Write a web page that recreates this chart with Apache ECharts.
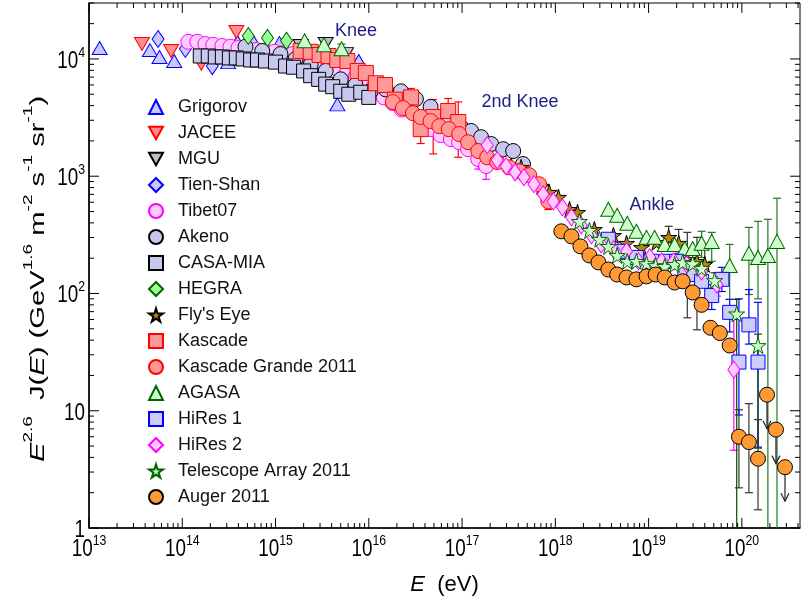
<!DOCTYPE html>
<html>
<head>
<meta charset="utf-8">
<script src="https://cdn.jsdelivr.net/npm/echarts@6/dist/echarts.min.js"></script>
<style>
  html, body { margin: 0; padding: 0; background: #fff; }
  #chart { width: 801px; height: 606px; }
</style>
</head>
<body>
<div id="chart"></div>
<script>
// axis ranges (E in eV, flux E^2.6 J(E))
const xMin = 1e13, xMax = 4.2e20;
const yMin = 1, yMax = 3e4;
const xDecades = [13, 14, 15, 16, 17, 18, 19, 20];
const yDecades = [0, 1, 2, 3, 4];
const tickMult = [1, 2, 3, 4, 5, 6, 7, 8, 9];

// [E, E^2.6 J(E)]
const grigorov = [[1.3e13, 1.24e4], [4.5e13, 1.19e4], [5.7e13, 1.04e4], [8.2e13, 9.6e3], [3.1e14, 9.4e3],
  [3.9e14, 1.4e4], [5.8e14, 1.4e4], [1.1e15, 1.37e4], [4.6e15, 4.1e3], [7.8e15, 9.6e3]];
const jacee = [[3.7e13, 1.34e4], [7.6e13, 1.17e4], [1.6e14, 9.1e3], [3.8e14, 1.7e4]];
const mgu = [[1.86e15, 1.29e4], [3.45e15, 1.34e4], [5.7e15, 1.1e4]];
const tienShan = [[5.5e13, 1.48e4], [1.08e14, 1.22e4], [2.1e14, 8.7e3]];
const tibet07 = [[1.16e14, 1.40e4], [1.45e14, 1.40e4], [1.77e14, 1.34e4], [2.15e14, 1.32e4], [2.69e14, 1.29e4],
  [3.28e14, 1.27e4], [4.0e14, 1.24e4], [5.0e14, 1.22e4], [6.25e14, 1.19e4], [7.8e14, 1.17e4], [9.75e14, 1.15e4],
  [1.22e15, 1.12e4], [1.52e15, 1.10e4], [1.9e15, 1.06e4], [2.38e15, 1.0e4], [2.97e15, 9.4e3], [3.7e15, 8.9e3],
  [4.6e15, 8.2e3], [5.8e15, 7.6e3], [7.2e15, 7.0e3], [9.1e15, 6.4e3], [1.13e16, 5.8e3], [1.45e16, 4.7e3],
  [1.81e16, 4.2e3], [2.26e16, 3.7e3], [2.83e16, 3.6e3], [3.6e16, 3.2e3], [4.6e16, 2.52e3], [5.9e16, 2.24e3],
  [7.6e16, 2.07e3], [9.3e16, 1.95e3], [1.16e17, 1.70e3], [1.49e17, 1.40e3], [1.81e17, 1.22e3]];
const akeno = [[4.76e14, 1.27e4], [7.2e14, 1.17e4], [1.13e15, 1.10e4], [1.64e15, 1.0e4], [2.38e15, 8.9e3],
  [3.45e15, 7.9e3], [5.0e15, 6.7e3], [7.2e15, 6.0e3], [1.05e16, 5.3e3], [1.52e16, 5.5e3], [2.21e16, 5.3e3],
  [3.2e16, 4.55e3], [4.6e16, 3.9e3], [6.7e16, 3.2e3], [9.75e16, 2.62e3], [1.25e17, 2.43e3], [1.6e17, 2.15e3],
  [2.05e17, 1.88e3], [2.76e17, 1.70e3], [3.53e17, 1.64e3], [4.5e17, 1.27e3]];
const casaMia = [[1.56e14, 1.06e4], [1.9e14, 1.06e4], [2.26e14, 1.04e4], [2.69e14, 1.04e4], [3.2e14, 1.02e4],
  [3.8e14, 1.02e4], [4.5e14, 1.0e4], [5.4e14, 9.8e3], [6.4e14, 9.8e3], [7.8e14, 9.6e3], [1.0e15, 9.4e3],
  [1.28e15, 8.7e3], [1.56e15, 8.5e3], [2.0e15, 7.9e3], [2.38e15, 7.2e3], [2.9e15, 6.7e3], [3.45e15, 6.1e3],
  [4.1e15, 5.8e3], [5.0e15, 5.3e3], [6.1e15, 5.0e3], [8.2e15, 5.2e3], [1.0e16, 4.7e3]];
const hegra = [[5.1e14, 1.57e4], [8.2e14, 1.51e4], [1.31e15, 1.43e4]];
const flysEye = [[3.37e17, 1.22e3], [4.3e17, 1.19e3], [7.1e17, 822], [8.6e17, 730], [1.08e18, 662], [1.42e18, 522],
  [1.73e18, 492], [2.62e18, 352], [4.2e18, 313], [5.8e18, 268], [8.4e18, 247], [1.22e19, 273], [1.64e19, 301],
  [2.1e19, 268], [2.6e19, 195], [3.3e19, 188], [4.0e19, 177]];
const kascade = [[1.86e15, 1.17e4], [2.38e15, 1.15e4], [2.97e15, 1.08e4], [3.7e15, 1.06e4], [4.6e15, 9.8e3],
  [5.9e15, 9.6e3], [7.6e15, 7.9e3], [9.3e15, 7.6e3], [1.19e16, 6.2e3], [1.49e16, 6.0e3], [1.9e16, 4.5e3],
  [2.83e16, 4.7e3], [3.6e16, 2.52e3], [4.9e16, 3.2e3], [7.1e16, 3.6e3], [9.1e16, 2.9e3]];
const kascadeGrande = [[1.81e16, 4.29e3], [2.32e16, 3.81e3], [2.97e16, 3.45e3], [3.6e16, 3.2e3], [4.6e16, 2.95e3],
  [5.7e16, 2.67e3], [7.2e16, 2.52e3], [9.3e16, 2.29e3], [1.16e17, 1.95e3], [1.49e17, 1.64e3], [1.86e17, 1.45e3],
  [2.38e17, 1.32e3], [3.2e17, 1.19e3], [4.1e17, 1.10e3], [5.25e17, 1.02e3], [6.7e17, 855], [8.4e17, 611]];
const agasa = [[2.05e15, 1.43e4], [3.3e15, 1.32e4], [5.1e15, 1.22e4], [3.7e18, 522], [4.6e18, 464], [5.9e18, 397],
  [7.4e18, 339], [9.5e18, 301], [1.16e19, 301], [1.49e19, 262], [1.9e19, 262], [2.44e19, 242], [2.97e19, 242],
  [3.7e19, 268], [4.75e19, 278], [7.4e19, 173], [1.19e20, 220], [1.49e20, 203], [1.9e20, 211], [2.38e20, 278]];
const hiRes1 = [[3.7e18, 290], [5.1e18, 229], [7.4e18, 203], [1.08e19, 188], [1.56e19, 188], [2.0e19, 188],
  [2.44e19, 160], [3.05e19, 145], [3.7e19, 127], [4.75e19, 96], [6.1e19, 132], [7.4e19, 69], [9.3e19, 26],
  [1.19e20, 54], [1.49e20, 26]];
const hiRes2 = [[1.86e17, 1.84e3], [2.38e17, 1.37e3], [2.97e17, 1.22e3], [3.7e17, 1.08e3], [4.6e17, 980],
  [5.9e17, 855], [7.4e17, 702], [9.5e17, 611], [1.19e18, 543], [1.49e18, 446], [1.9e18, 381], [2.44e18, 313],
  [3.1e18, 262], [4.2e18, 238], [5.8e18, 229], [7.8e18, 188], [1.03e19, 203], [1.38e19, 188], [1.86e19, 188],
  [2.56e19, 177], [3.7e19, 154], [5.4e19, 119], [8.2e19, 22.4]];
const telescopeArray = [[1.81e18, 412], [2.32e18, 345], [2.97e18, 290], [3.7e18, 252], [4.6e18, 211], [5.9e18, 188],
  [7.4e18, 188], [9.5e18, 180], [1.19e19, 173], [1.49e19, 170], [1.9e19, 177], [2.32e19, 184], [2.97e19, 180],
  [3.7e19, 164], [5.1e19, 129], [8.8e19, 67], [1.49e20, 36]];
const auger = [[1.16e18, 339], [1.49e18, 307], [1.86e18, 252], [2.32e18, 211], [2.9e18, 184], [3.7e18, 160],
  [4.6e18, 145], [5.8e18, 137], [7.4e18, 132], [9.5e18, 140], [1.19e19, 145], [1.49e19, 137], [1.9e19, 124],
  [2.32e19, 127], [2.97e19, 102], [3.7e19, 80], [4.6e19, 51], [5.8e19, 46], [7.4e19, 36], [9.3e19, 6.0],
  [1.19e20, 5.4], [1.49e20, 3.9]];
const augerLimits = [[1.86e20, 13.7], [2.32e20, 6.9], [2.9e20, 3.3]];

// error bars [E, low, high]; low at yMin means the bar runs down to the axis
const kascadeErr = [[2.83e16, 3.9e3, 5.6e3], [3.6e16, 1.9e3, 3.2e3], [4.9e16, 1.55e3, 4.5e3], [7.1e16, 2.6e3, 4.6e3],
  [9.1e16, 1.45e3, 4.3e3]];
const tibetErr = [[1.49e17, 1.15e3, 1.6e3], [1.81e17, 940, 1.4e3]];
const kascadeGrandeErr = [[8.4e17, 520, 700]];
const flysEyeErr = [[1.64e19, 250, 374], [2.1e19, 220, 352], [2.6e19, 62, 332], [3.3e19, 49, 301], [4.0e19, 120, 260]];
const agasaErr = [[5.1e15, 1.05e4, 1.34e4], [3.7e19, 203, 339], [4.75e19, 188, 332], [7.4e19, 89, 262],
  [1.19e20, 98, 366], [1.49e20, 90, 412], [1.9e20, 1, 429], [2.38e20, 1, 649]];
const hiRes1Err = [[4.75e19, 73, 119], [6.1e19, 104, 167], [7.4e19, 47, 89], [9.3e19, 9.2, 90], [1.19e20, 37, 108],
  [1.49e20, 4.9, 84]];
const hiRes2Err = [[5.4e19, 95, 150], [8.2e19, 4.6, 60]];
const taErr = [[5.1e19, 115, 150], [8.8e19, 1, 89], [1.49e20, 4.8, 45]];
const augerErr = [[9.3e19, 2.2, 10.2], [1.19e20, 2.0, 11.5], [1.49e20, 1.43, 8.4]];

const annotations = [['Knee', 356, 31], ['2nd Knee', 520, 102], ['Ankle', 652, 205]];

const downTri = 'path://M0,0L10,0L5,9Z';
const star = 'path://M50,0L61,35L98,35L68,57L79,91L50,70L21,91L32,57L2,35L39,35Z';

const experiments = [
  { name: 'Grigorov', data: grigorov, symbol: 'triangle', size: [15, 13], fill: '#c8c8ff', edge: '#0000ff' },
  { name: 'JACEE', data: jacee, symbol: downTri, size: [15, 13], fill: '#ff8c8c', edge: '#ff0000' },
  { name: 'MGU', data: mgu, symbol: downTri, size: [15, 13], fill: '#c0c0c0', edge: '#000' },
  { name: 'Tien-Shan', data: tienShan, symbol: 'diamond', size: [12, 17], fill: '#c8c8ff', edge: '#0000ff' },
  { name: 'Tibet07', data: tibet07, symbol: 'circle', size: 15, fill: '#ffccff', edge: '#ff00ff' },
  { name: 'Akeno', data: akeno, symbol: 'circle', size: 15, fill: '#c8c8ee', edge: '#000' },
  { name: 'CASA-MIA', data: casaMia, symbol: 'rect', size: 14, fill: '#c8c8ee', edge: '#000' },
  { name: 'HEGRA', data: hegra, symbol: 'diamond', size: [12, 17], fill: '#99ff99', edge: '#006600' },
  { name: "Fly's Eye", data: flysEye, symbol: star, size: 16, fill: '#b8860b', edge: '#000' },
  { name: 'Kascade', data: kascade, symbol: 'rect', size: 15, fill: '#ff9999', edge: '#ff0000' },
  { name: 'Kascade Grande 2011', data: kascadeGrande, symbol: 'circle', size: 15, fill: '#ff9999', edge: '#ff0000' },
  { name: 'AGASA', data: agasa, symbol: 'triangle', size: [15, 14], fill: '#ccffcc', edge: '#006600' },
  { name: 'HiRes 1', data: hiRes1, symbol: 'rect', size: 14, fill: '#ccccff', edge: '#0000ff' },
  { name: 'HiRes 2', data: hiRes2, symbol: 'diamond', size: [12, 17], fill: '#ffccff', edge: '#ff00ff' },
  { name: 'Telescope Array 2011', data: telescopeArray, symbol: star, size: 16, fill: '#ccffcc', edge: '#006600' },
  { name: 'Auger 2011', data: auger.concat(augerLimits), symbol: 'circle', size: 15, fill: '#ff9933', edge: '#000' }
];

const errorSets = [
  [kascadeErr, '#ff0000'], [tibetErr, '#ff00ff'], [kascadeGrandeErr, '#ff0000'], [flysEyeErr, '#333'],
  [agasaErr, '#1f7a1f'], [hiRes1Err, '#0000ff'], [hiRes2Err, '#ff00ff'], [taErr, '#005000'], [augerErr, '#333']
];

function errorSeries(data, color) {
  return {
    type: 'custom', data: data, z: 2, silent: true, clip: true,
    encode: { x: 0, y: [1, 2] },
    renderItem: function (params, api) {
      const cs = params.coordSys;
      const lo = api.value(1);
      const top = api.coord([api.value(0), api.value(2)]);
      const bot = lo <= yMin ? [top[0], cs.y + cs.height] : api.coord([api.value(0), lo]);
      const st = { stroke: color, lineWidth: 1.2 };
      const kids = [
        { type: 'line', shape: { x1: top[0], y1: top[1], x2: bot[0], y2: bot[1] }, style: st },
        { type: 'line', shape: { x1: top[0] - 4, y1: top[1], x2: top[0] + 4, y2: top[1] }, style: st }
      ];
      if (lo > yMin) kids.push({ type: 'line', shape: { x1: bot[0] - 4, y1: bot[1], x2: bot[0] + 4, y2: bot[1] }, style: st });
      return { type: 'group', children: kids };
    }
  };
}

// minor/major ticks on all four sides
const xTicks = [], yTicks = [];
xDecades.forEach(n => tickMult.forEach(m => {
  const v = m * Math.pow(10, n);
  if (v <= xMax) xTicks.push([v, 1, m === 1 ? 1 : 0]);
}));
yDecades.forEach(n => tickMult.forEach(m => {
  const v = m * Math.pow(10, n);
  if (v <= yMax) yTicks.push([xMin, v, m === 1 ? 1 : 0]);
}));

const tickStyle = { stroke: '#000', lineWidth: 1 };
const tickFont = "'Liberation Sans', Arial, sans-serif";
const textFont = "'Liberation Sans', Arial, sans-serif";
const tickRich = {
  b: { fontSize: 23, fontFamily: tickFont, fill: '#000', lineHeight: 28, verticalAlign: 'bottom' },
  s: { fontSize: 15, fontFamily: tickFont, fill: '#000', lineHeight: 15, verticalAlign: 'top' }
};

function powLabel(n, small) {
  if (small && n === 0) return '{b|1}';
  if (small && n === 1) return '{b|10}';
  return '{b|10}{s|' + n + '}';
}

const tickSeries = [
  {
    type: 'custom', data: xTicks, silent: true, clip: false, z: 5, encode: { x: 0, y: 1 },
    renderItem: function (params, api) {
      const cs = params.coordSys;
      const x = api.coord([api.value(0), yMin])[0];
      const major = api.value(2);
      const len = major ? 10 : 5;
      const b = cs.y + cs.height;
      const kids = [
        { type: 'line', shape: { x1: x, y1: b, x2: x, y2: b - len }, style: tickStyle },
        { type: 'line', shape: { x1: x, y1: cs.y, x2: x, y2: cs.y + len }, style: tickStyle }
      ];
      if (major) {
        kids.push({ type: 'text', x: x, y: b + 5, scaleX: 0.82,
          style: { text: powLabel(Math.round(Math.log10(api.value(0))), false), rich: tickRich, align: 'center', verticalAlign: 'top' } });
      }
      return { type: 'group', children: kids };
    }
  },
  {
    type: 'custom', data: yTicks, silent: true, clip: false, z: 5, encode: { x: 0, y: 1 },
    renderItem: function (params, api) {
      const cs = params.coordSys;
      const y = api.coord([xMin, api.value(1)])[1];
      const major = api.value(2);
      const len = major ? 10 : 5;
      const r = cs.x + cs.width;
      const kids = [
        { type: 'line', shape: { x1: cs.x, y1: y, x2: cs.x + len, y2: y }, style: tickStyle },
        { type: 'line', shape: { x1: r, y1: y, x2: r - len, y2: y }, style: tickStyle }
      ];
      if (major) {
        kids.push({ type: 'text', x: cs.x - 4, y: y, scaleX: 0.82,
          style: { text: powLabel(Math.round(Math.log10(api.value(1))), true), rich: tickRich, align: 'right', verticalAlign: 'middle' } });
      }
      return { type: 'group', children: kids };
    }
  }
];

// upper limits: arrow pointing down from the marker
const limitSeries = {
  type: 'custom', data: augerLimits, z: 2, silent: true, encode: { x: 0, y: 1 },
  renderItem: function (params, api) {
    const p = api.coord([api.value(0), api.value(1)]);
    const end = p[1] + 34;
    const st = { stroke: '#222', lineWidth: 1.2, fill: 'none' };
    return { type: 'group', children: [
      { type: 'line', shape: { x1: p[0], y1: p[1], x2: p[0], y2: end }, style: st },
      { type: 'polyline', shape: { points: [[p[0] - 4, end - 8], [p[0], end], [p[0] + 4, end - 8]] }, style: st }
    ] };
  }
};

const titleRich = {
  t: { fontSize: 20, fontFamily: textFont, fill: '#000', lineHeight: 26, verticalAlign: 'bottom' },
  i: { fontSize: 20, fontFamily: textFont, fill: '#000', fontStyle: 'italic', lineHeight: 26, verticalAlign: 'bottom' },
  s: { fontSize: 13, fontFamily: textFont, fill: '#000', lineHeight: 13, verticalAlign: 'top' }
};

const option = {
  animation: false,
  backgroundColor: '#fff',
  grid: { left: 89, right: 1, top: 3, bottom: 78, show: true, borderColor: '#000', borderWidth: 1, backgroundColor: 'transparent' },
  legend: {
    orient: 'vertical', left: 143, top: 93, itemWidth: 14, itemHeight: 14, itemGap: 8,
    selectedMode: false,
    data: experiments.map(e => e.name),
    textStyle: { fontSize: 18, lineHeight: 18, fontFamily: textFont, color: '#111', padding: [0, 0, 0, 10] }
  },
  xAxis: {
    type: 'log', logBase: 10, min: xMin, max: xMax,
    name: '{i|E}{t|  (eV)}', nameLocation: 'middle', nameGap: 46,
    nameTextStyle: { rich: {
      i: { fontSize: 22, fontFamily: textFont, fontStyle: 'italic', color: '#000' },
      t: { fontSize: 22, fontFamily: textFont, color: '#000' }
    } },
    axisLine: { show: true, lineStyle: { color: '#000', width: 1.5 } },
    axisTick: { show: false }, splitLine: { show: false }, minorTick: { show: false },
    axisLabel: { show: false }
  },
  yAxis: {
    type: 'log', logBase: 10, min: yMin, max: yMax,
    axisLine: { show: true, lineStyle: { color: '#000', width: 1.5 } },
    axisTick: { show: false }, splitLine: { show: false }, minorTick: { show: false },
    axisLabel: { show: false }
  },
  graphic: annotations.map(a => ({
    type: 'text', x: a[1], y: a[2], z: 10, silent: true,
    style: { text: a[0], fontSize: 18, fontFamily: textFont, fill: '#1c1c84', align: 'center', verticalAlign: 'middle' }
  })).concat([{
    // y axis title, stretched along its length like the original
    type: 'text', x: 35, y: 279, rotation: Math.PI / 2, scaleX: 1.46, silent: true,
    style: {
      text: '{i|E}{s|2.6}{t|  J(}{i|E}{t|) (GeV}{s|1.6}{t| m}{s|-2}{t| s}{s|-1}{t| sr}{s|-1}{t|)}',
      rich: titleRich, align: 'center', verticalAlign: 'middle'
    }
  }]),
  series: errorSets.map(s => errorSeries(s[0], s[1]))
    .concat([limitSeries])
    .concat(experiments.map(e => ({
      type: 'scatter', name: e.name, data: e.data, symbol: e.symbol, symbolSize: e.size, z: 3,
      itemStyle: { color: e.fill, borderColor: e.edge, borderWidth: 1, opacity: 1 },
      emphasis: { disabled: true }, silent: true
    })))
    .concat(tickSeries)
};

const chart = echarts.init(document.getElementById('chart'));
chart.setOption(option);
</script>
</body>
</html>
